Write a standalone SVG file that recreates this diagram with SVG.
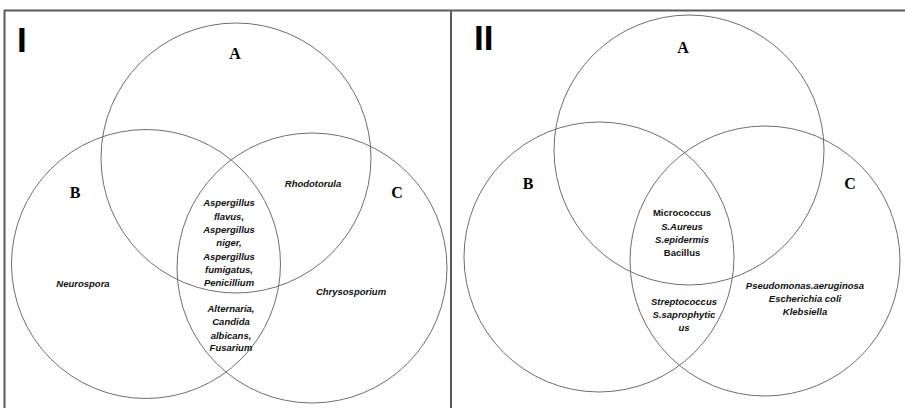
<svg xmlns="http://www.w3.org/2000/svg" width="905" height="408" viewBox="0 0 905 408">
<style>
.frame{stroke:#5a5a5a;stroke-width:2;fill:none}
.c{fill:none;stroke:#6e6e6e;stroke-width:1}
.pn{font-family:"Liberation Sans",Arial,sans-serif;font-weight:bold;font-size:35px;fill:#000}
.set{font-family:"Liberation Serif","Times New Roman",serif;font-weight:bold;font-size:16px;fill:#000;text-anchor:middle}
.sp{font-family:"Liberation Sans",Arial,sans-serif;font-weight:bold;font-style:italic;font-size:9.5px;fill:#111;text-anchor:middle}
.spn{font-family:"Liberation Sans",Arial,sans-serif;font-weight:bold;font-size:9.5px;fill:#111;text-anchor:middle}
</style>
<rect width="905" height="408" fill="#fff"/>
<g id="frame">
<line class="frame" x1="4" y1="10.5" x2="905" y2="10.5"/>
<line class="frame" x1="4.5" y1="10" x2="4.5" y2="408"/>
<line class="frame" x1="451" y1="10" x2="451" y2="408"/>
</g>
<g id="panel-I">
<text class="pn" x="17" y="52">I</text>
<g id="I-A"><circle class="c" cx="236" cy="158" r="135"/><text class="set" x="235" y="59">A</text></g>
<g id="I-B"><circle class="c" cx="146" cy="264" r="134.5"/><text class="set" x="75" y="198">B</text></g>
<g id="I-C"><circle class="c" cx="312" cy="268" r="135"/><text class="set" x="397" y="198">C</text></g>
<g id="I-AC"><text class="sp" x="313" y="186.5">Rhodotorula</text></g>
<g id="I-B-only"><text class="sp" x="83" y="286.5">Neurospora</text></g>
<g id="I-C-only"><text class="sp" x="351" y="294.5">Chrysosporium</text></g>
<g id="I-ABC">
<text class="sp" x="229" y="206">Aspergillus</text>
<text class="sp" x="229" y="219.5">flavus,</text>
<text class="sp" x="229" y="232.8">Aspergillus</text>
<text class="sp" x="229" y="246">niger,</text>
<text class="sp" x="229" y="259.5">Aspergillus</text>
<text class="sp" x="229" y="272.8">fumigatus,</text>
<text class="sp" x="229" y="286">Penicillium</text>
</g>
<g id="I-BC">
<text class="sp" x="231" y="311.8">Alternaria,</text>
<text class="sp" x="231" y="325">Candida</text>
<text class="sp" x="231" y="338.5">albicans,</text>
<text class="sp" x="231" y="351">Fusarium</text>
</g>
</g>
<g id="panel-II">
<text class="pn" x="474" y="50">II</text>
<g id="II-A"><circle class="c" cx="689" cy="150" r="135"/><text class="set" x="683" y="53">A</text></g>
<g id="II-B"><circle class="c" cx="599" cy="257" r="135"/><text class="set" x="528" y="189">B</text></g>
<g id="II-C"><circle class="c" cx="765" cy="261" r="135"/><text class="set" x="850" y="189">C</text></g>
<g id="II-ABC">
<text class="spn" x="682" y="216">Micrococcus</text>
<text class="sp" x="682" y="229.5">S.Aureus</text>
<text class="sp" x="682" y="242.8">S.epidermis</text>
<text class="spn" x="682" y="255.8">Bacillus</text>
</g>
<g id="II-BC">
<text class="sp" x="684" y="304.5">Streptococcus</text>
<text class="sp" x="684" y="317.8">S.saprophytic</text>
<text class="sp" x="684" y="331">us</text>
</g>
<g id="II-C-only">
<text class="sp" x="805" y="288.5">Pseudomonas.aeruginosa</text>
<text class="sp" x="805" y="301.8">Escherichia coli</text>
<text class="sp" x="805" y="315">Klebsiella</text>
</g>
</g>
</svg>
